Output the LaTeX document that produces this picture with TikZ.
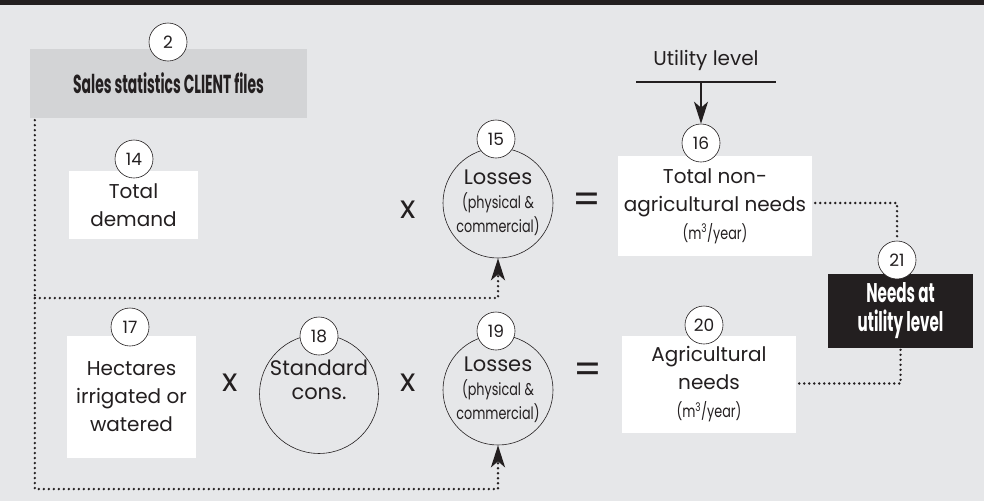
\documentclass[tikz,border=0pt]{standalone}
\usepackage{fontspec}
\setmainfont{Poppins}
\usepackage{graphicx}
\usepackage{tikz}
\usetikzlibrary{arrows.meta,calc,positioning}
\definecolor{PanelGray}{HTML}{E6E7E9}
\definecolor{SourceGray}{HTML}{D3D4D6}
\definecolor{InkBlack}{HTML}{231F20}
\newcommand{\condtxt}[2][0.8]{\scalebox{#1}[1]{#2}}

\begin{document}
\begin{tikzpicture}[x=1pt,y=-1pt,
    every node/.style={text=InkBlack},
    numcirc/.style={circle,draw=InkBlack,line width=0.6pt,fill=white,minimum size=38pt,inner sep=0pt,font=\fontsize{17}{17}\selectfont},
    bigcirc/.style={circle,draw=InkBlack,line width=0.6pt,minimum size=110pt,inner sep=0pt,align=center,font=\fontsize{21}{24}\selectfont},
    whitebox/.style={fill=white,inner sep=0pt,align=center,font=\fontsize{20}{28}\selectfont},
    optext/.style={font=\fontsize{32}{32}\selectfont},
    eqtext/.style={font=\fontsize{40}{40}\selectfont},
    dotline/.style={draw=InkBlack,line width=2.6pt,line cap=round,dash pattern=on 0pt off 5pt},
    flowtip/.style={-{Stealth[length=22pt 0 0,width=14pt 0 0,inset=6pt 0]}}]
    \useasboundingbox (0,0) rectangle (984,501);
    \fill[PanelGray] (0,0) rectangle (984,501);
    \fill[InkBlack] (0,0) rectangle (984,5);
    % source box
    \node[fill=SourceGray,minimum width=277pt,minimum height=69pt,inner sep=0pt,
        font=\fontsize{26}{26}\bfseries] (src) at (168.5,83.5)
        {\condtxt[0.535]{Sales statistics CLIENT files}};
    % first row
    \node[whitebox,minimum width=129pt,minimum height=68pt] (demand) at (133.5,205) {Total\\demand};
    \node[optext] (times1) at (408,210) {x};
    \node[bigcirc] (loss1) at (498,203)
        {Losses\\{\fontsize{17}{23}\selectfont\condtxt[0.75]{(physical \&}}\\{\fontsize{17}{23}\selectfont\condtxt[0.75]{commercial)}}};
    \node[eqtext] (eq1) at (587,203) {=};
    \node[whitebox,minimum width=194pt,minimum height=100pt] (nonagri) at (715,206)
        {Total non-\\agricultural needs\\{\fontsize{17}{20}\selectfont\condtxt[0.75]{(m\textsuperscript{3}/year)}}};
    \node[font=\fontsize{20}{20}\selectfont] (ulevel) at (706,60) {Utility level};
    \coordinate (ulL) at (636,82);
    \coordinate (ulR) at (776,82);
    % second row
    \node[whitebox,minimum width=129pt,minimum height=122pt] (hect) at (131.5,397) {Hectares\\irrigated or\\watered};
    \node[optext] (times2) at (230,383) {x};
    \node[bigcirc] (std) at (319,394) {Standard\\cons.\\[4pt]};
    \node[optext] (times3) at (408,383) {x};
    \node[bigcirc] (loss2) at (498,390)
        {Losses\\{\fontsize{17}{23}\selectfont\condtxt[0.75]{(physical \&}}\\{\fontsize{17}{23}\selectfont\condtxt[0.75]{commercial)}}};
    \node[eqtext] (eq2) at (588,373) {=};
    \node[whitebox,minimum width=174pt,minimum height=97pt] (agri) at (709,384.5)
        {Agricultural\\needs\\{\fontsize{17}{20}\selectfont\condtxt[0.75]{(m\textsuperscript{3}/year)}}};
    % result
    \node[fill=InkBlack,minimum width=145pt,minimum height=74pt,inner sep=0pt,align=center,
        text=white,font=\fontsize{27}{29}\bfseries] (needs) at (900.5,311)
        {\condtxt[0.56]{Needs at}\\\condtxt[0.56]{utility level}};
    % number circles
    \foreach \px/\py/\num in {168/42/2,134/159/14,496/139/15,701/143/16,897/260/21,
        130/327/17,319/336/18,496/331/19,704/325/20} {
        \node[numcirc] (n\num) at (\px,\py) {\num};
    }
    % connectors
    \draw[InkBlack,line width=2pt] (ulL) -- (ulR);
    \draw[InkBlack,line width=2pt,flowtip] (n16.north |- ulL) -- (n16.north);
    \coordinate (tap) at ($(src.south west)+(5,2)$);
    \coordinate (split) at (tap |- 0,298);
    \draw[dotline] (tap) -- (split);
    \draw[dotline,flowtip] (split) -| (loss1.south);
    \draw[dotline,flowtip] (split) -- (tap |- 0,489) -| (loss2.south);
    \draw[dotline] ($(nonagri.east)+(3,-3)$) -| (n21.north);
    \draw[dotline] ($(agri.east)+(3,-1)$) -| (needs.south);
\end{tikzpicture}
\end{document}
